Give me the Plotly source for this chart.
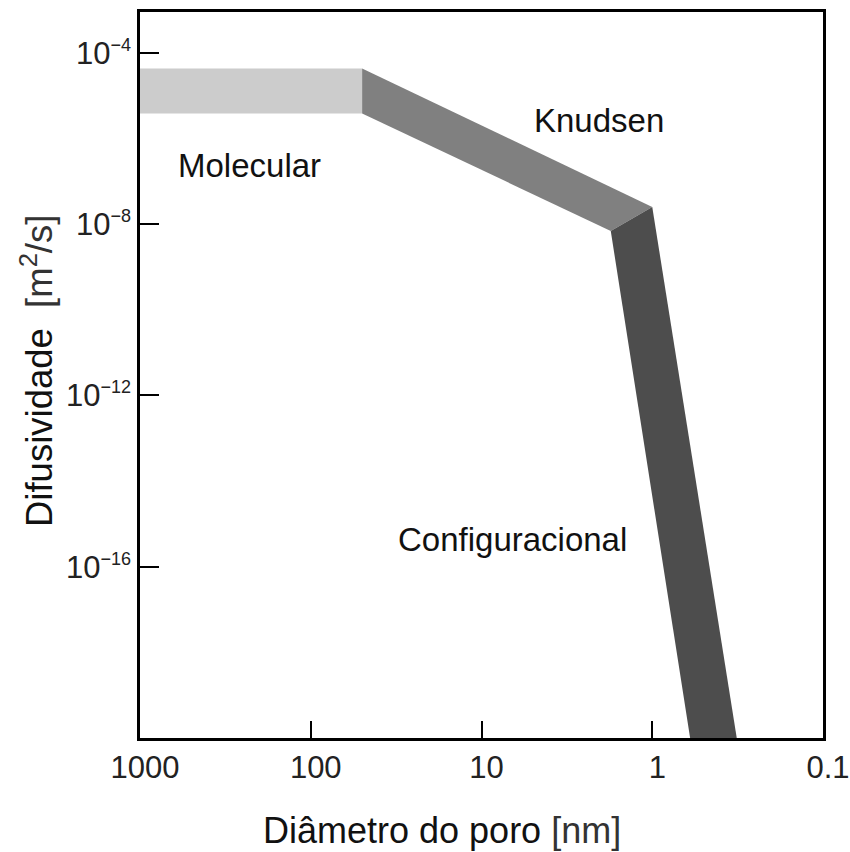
import numpy as np
import plotly.graph_objects as go

# Diffusion regimes: pore diameter (nm) vs diffusivity (m^2/s), band outlines
molecular_d = [1000, 50, 50, 1000]
molecular_D = [4.3e-5, 4.3e-5, 3.8e-6, 3.8e-6]

knudsen_d = [50, 1.0, 1.75, 50]
knudsen_D = [4.3e-5, 2.5e-8, 6.9e-9, 3.8e-6]

config_d = [1.75, 1.0, 0.32, 0.60]
config_D = [6.9e-9, 2.5e-8, 1e-20, 1e-20]

regime_labels = ["Molecular", "Knudsen", "Configuracional"]
label_d = [227, 2.05, 6.6]
label_D = [2.3e-7, 2.6e-6, 4.4e-16]

x_tickvals = [1000, 100, 10, 1, 0.1]
x_ticktext = ["1000", "100", "10", "1", "0.1"]
y_tickvals = [1e-4, 1e-8, 1e-12, 1e-16]
y_exponents = ["4", "8", "12", "16"]
y_ticktext = ["10<sup><span style='font-size:18px'>\u2212" + e + "</span></sup>"
              for e in y_exponents]

FONT = "Liberation Sans, Arial, sans-serif"

fig = go.Figure()
for xs, ys, col in [(molecular_d, molecular_D, "#cccccc"),
                    (knudsen_d, knudsen_D, "#808080"),
                    (config_d, config_D, "#4d4d4d")]:
    fig.add_trace(go.Scatter(x=xs, y=ys, fill="toself", mode="lines",
                             line=dict(width=0, color=col), fillcolor=col,
                             hoverinfo="skip", showlegend=False))

for txt, xd, yd in zip(regime_labels, label_d, label_D):
    fig.add_annotation(x=np.log10(xd), y=np.log10(yd), text=txt, showarrow=False,
                       font=dict(family=FONT, size=33, color="#111111"),
                       xanchor="center", yanchor="middle")

# axis titles
fig.add_annotation(xref="paper", yref="paper", x=(442 - 140) / 683, y=(738 - 831) / 726,
                   text="Di\u00e2metro do poro <span style='color:#333'>[nm]</span>",
                   showarrow=False, font=dict(family=FONT, size=36, color="#111111"),
                   xanchor="center", yanchor="middle")
fig.add_annotation(xref="paper", yref="paper", x=(37 - 140) / 683, y=(738 - 371) / 726,
                   text="Difusividade  <span style='color:#333'>[m<sup>2</sup>/s]</span>",
                   textangle=-90, showarrow=False,
                   font=dict(family=FONT, size=36.5, color="#111111"),
                   xanchor="center", yanchor="middle")

fig.update_xaxes(type="log", range=[3, -1], tickvals=x_tickvals, ticktext=x_ticktext,
                 ticks="inside", ticklen=17, tickwidth=1.5, tickcolor="black",
                 ticklabelshift=-5, ticklabeloverflow="allow", automargin=False,
                 showline=True, linewidth=2.5, linecolor="black", mirror=True,
                 showgrid=False, zeroline=False,
                 tickfont=dict(family=FONT, size=31, color="#222222"))
fig.update_yaxes(type="log", range=[-20, -3.05], tickvals=y_tickvals, ticktext=y_ticktext,
                 ticks="inside", ticklen=19, tickwidth=1.5, tickcolor="black",
                 automargin=False,
                 showline=True, linewidth=2.5, linecolor="black", mirror=True,
                 showgrid=False, zeroline=False,
                 tickfont=dict(family=FONT, size=31, color="#222222"))

fig.update_layout(width=850, height=852, plot_bgcolor="white", paper_bgcolor="white",
                  margin=dict(l=140, r=27, t=12, b=114), showlegend=False)

fig.write_html("out.html")
